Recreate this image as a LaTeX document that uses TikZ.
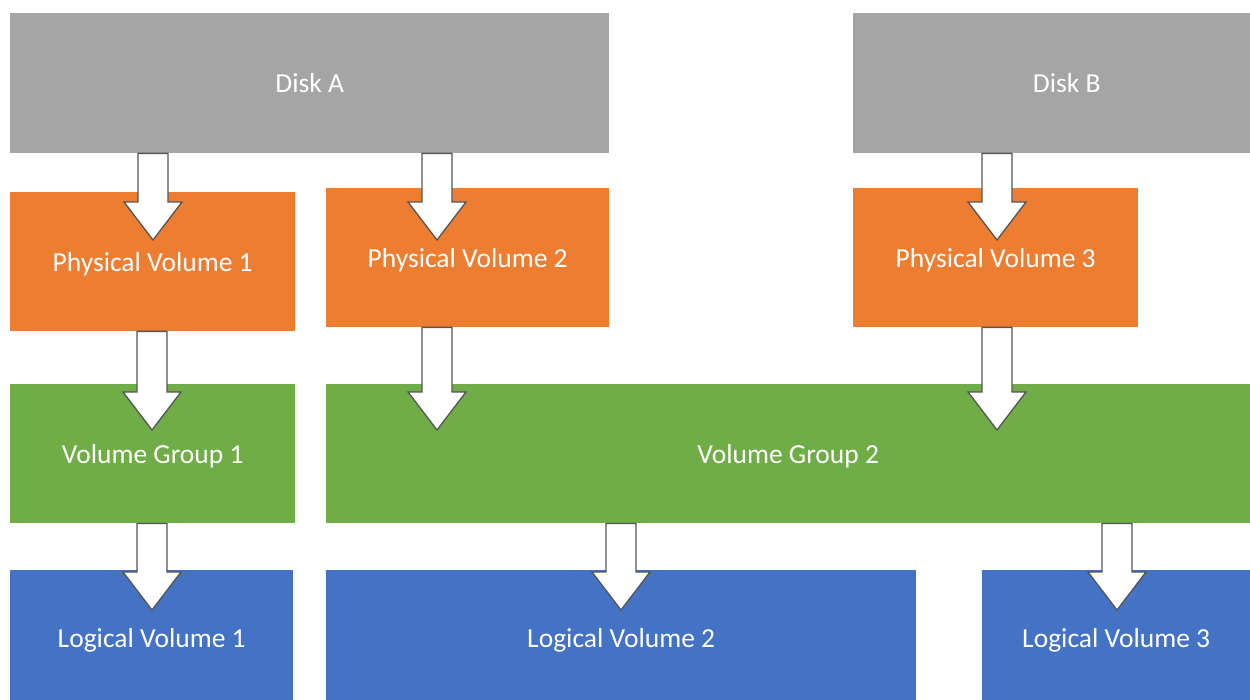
\documentclass[tikz,border=0pt]{standalone}
\usepackage{fontspec}
\setmainfont{Carlito}
\usetikzlibrary{calc}

\definecolor{diskgray}{HTML}{A5A5A5}
\definecolor{pvorange}{HTML}{ED7D31}
\definecolor{vggreen}{HTML}{70AD47}
\definecolor{lvblue}{HTML}{4472C4}
\definecolor{arrowline}{HTML}{555555}

\tikzset{
  layer/.style={rectangle, anchor=north west, inner sep=0pt, text=white,
    text depth=0pt, font=\fontsize{27.5}{32}\selectfont},
  disk/.style={layer, fill=diskgray},
  pv/.style={layer, fill=pvorange},
  vg/.style={layer, fill=vggreen},
  lv/.style={layer, fill=lvblue},
  flow/.style={fill=white, draw=arrowline, line width=1.3pt, line join=miter},
}

% Block arrow from the bottom of #1 down into #2:
% #3 = horizontal centre, #4 = depth of the tip below the top of #2
\newcommand\flowarrow[4]{%
  \filldraw[flow] let \p1=(#1.south), \p2=(#2.north),
      \n1={\y2-#4pt}, \n2={\n1+38pt} in
    (#3pt-15pt,\y1) -- (#3pt+15pt,\y1) -- (#3pt+15pt,\n2) -- (#3pt+29pt,\n2)
    -- (#3pt,\n1) -- (#3pt-29pt,\n2) -- (#3pt-15pt,\n2) -- cycle;
}

\begin{document}
\begin{tikzpicture}[x=1pt, y=-1pt]
  \useasboundingbox (0,0) rectangle (1250,700);
  \fill[white] (0,0) rectangle (1250,700);
  \clip (0,0) rectangle (1250,700);

  % disks
  \node[disk, minimum width=599pt, minimum height=140pt] (diskA) at (10,13) {Disk A};
  \node[disk, minimum width=427pt, minimum height=140pt] (diskB) at (853,13) {Disk B};

  % physical volumes
  \node[pv, minimum width=285pt, minimum height=139pt] (pv1) at (10,192) {Physical Volume 1};
  \node[pv, minimum width=283pt, minimum height=139pt] (pv2) at (326,188) {Physical Volume 2};
  \node[pv, minimum width=285pt, minimum height=139pt] (pv3) at (853,188) {Physical Volume 3};

  % volume groups
  \node[vg, minimum width=285pt, minimum height=139pt] (vg1) at (10,384) {Volume Group 1};
  \node[vg, minimum width=924pt, minimum height=139pt] (vg2) at (326,384) {Volume Group 2};

  % logical volumes
  \node[lv, minimum width=283pt, minimum height=136pt] (lv1) at (10,570) {Logical Volume 1};
  \node[lv, minimum width=590pt, minimum height=136pt] (lv2) at (326,570) {Logical Volume 2};
  \node[lv, minimum width=268pt, minimum height=136pt] (lv3) at (982,570) {Logical Volume 3};

  % disks -> physical volumes
  \flowarrow{diskA}{pv1}{153}{48}
  \flowarrow{diskA}{pv2}{437}{52}
  \flowarrow{diskB}{pv3}{997}{52}

  % physical volumes -> volume groups
  \flowarrow{pv1}{vg1}{152}{46}
  \flowarrow{pv2}{vg2}{437}{46}
  \flowarrow{pv3}{vg2}{997}{46}

  % volume groups -> logical volumes
  \flowarrow{vg1}{lv1}{152}{40}
  \flowarrow{vg2}{lv2}{621}{40}
  \flowarrow{vg2}{lv3}{1117}{40}
\end{tikzpicture}
\end{document}
